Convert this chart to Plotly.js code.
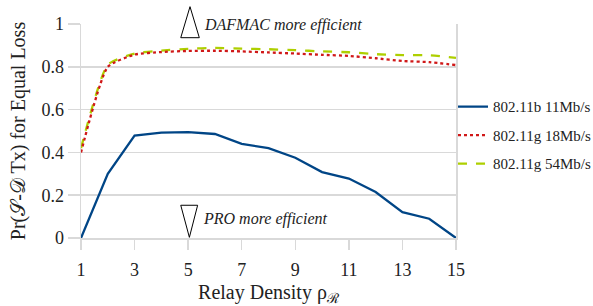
<!DOCTYPE html>
<html>
<head>
<meta charset="utf-8">
<script src="https://cdn.plot.ly/plotly-3.0.1.min.js"></script>
<style>
html,body{margin:0;padding:0;background:#fff;}
#chart{width:593px;height:306px;}
#chart text, #chart tspan { font-family: "Liberation Serif", "Times New Roman", serif !important; }
</style>
</head>
<body>
<div id="chart"></div>
<script>
// Relay density values
var relayDensity = [1,2,3,4,5,6,7,8,9,10,11,12,13,14,15];
// Series values
var b11 = [0, 0.30, 0.478, 0.492, 0.495, 0.486, 0.44, 0.42, 0.375, 0.308, 0.278, 0.215, 0.121, 0.09, 0];
var g18 = [0.40, 0.80, 0.857, 0.869, 0.874, 0.875, 0.872, 0.867, 0.862, 0.856, 0.851, 0.84, 0.827, 0.822, 0.808];
var g54 = [0.42, 0.81, 0.862, 0.876, 0.884, 0.888, 0.885, 0.882, 0.878, 0.872, 0.868, 0.859, 0.855, 0.854, 0.842];
// Labels
var seriesNames = ["802.11b 11Mb/s", "802.11g 18Mb/s", "802.11g 54Mb/s"];
var xTicks = [1,3,5,7,9,11,13,15];
var yTicks = [0,0.2,0.4,0.6,0.8,1];
var yTickText = ["0","0.2","0.4","0.6","0.8","1"];

var serif = "Liberation Serif";
var grid = "#d9d9d9";

var traces = [
  {x: relayDensity, y: b11, name: seriesNames[0], mode: "lines", legendgroup: "a",
   line: {color: "#004586", width: 2.3}},
  {x: relayDensity, y: g18, name: seriesNames[1], mode: "lines", legendgroup: "b",
   line: {color: "#d01818", width: 2.3, dash: "dot", shape: "spline", smoothing: 0.5}},
  {x: relayDensity, y: g54, name: seriesNames[2], mode: "lines", legendgroup: "c",
   line: {color: "#aecf00", width: 2.3, dash: "dash", shape: "spline", smoothing: 0.5}}
];

// draw red dotted on top of green dashed, keep legend order
var data = [traces[0], traces[2], traces[1]];
traces[0].legendrank = 1; traces[1].legendrank = 2; traces[2].legendrank = 3;

var layout = {
  width: 593, height: 306,
  margin: {l: 81, r: 137, t: 24, b: 68, autoexpand: false},
  paper_bgcolor: "#fff", plot_bgcolor: "#fff",
  font: {family: serif, color: "#222", size: 16},
  showlegend: true,
  legend: {x: 0.992, y: 0.69, xanchor: "left", yanchor: "top", tracegroupgap: 6,
           font: {family: serif, size: 15, color: "#222"}, bgcolor: "rgba(0,0,0,0)"},
  xaxis: {
    range: [1, 15], tickvals: xTicks, ticktext: xTicks.map(String),
    showgrid: false, zeroline: false, showline: true, linecolor: grid, linewidth: 1.5,
    ticks: "outside", ticklen: 10, tickcolor: grid, tickwidth: 1.5, ticklabelstandoff: 5,
    tickfont: {family: serif, size: 18, color: "#222"},
    title: {text: "Relay Density ρ<sub>ℛ</sub>", font: {family: serif, size: 20, color: "#222"}, standoff: 12}
  },
  yaxis: {
    range: [0, 1], tickvals: yTicks, ticktext: yTickText,
    showgrid: true, gridcolor: grid, gridwidth: 1.5, zeroline: false,
    showline: true, linecolor: grid, linewidth: 1.5, mirror: true,
    ticks: "outside", ticklen: 12, tickcolor: grid, tickwidth: 1.5,
    tickfont: {family: serif, size: 18, color: "#222"},
    title: {text: "Pr(𝒮-𝒟 Tx) for Equal Loss", font: {family: serif, size: 20, color: "#222"}, standoff: 10}
  },
  shapes: [
    {type: "rect", xref: "paper", yref: "paper", x0: 0.243, x1: 0.76, y0: 0.985, y1: 1.015,
     fillcolor: "#fff", line: {width: 0}, layer: "above"},
    {type: "path", xref: "paper", yref: "paper", path: "M 0.266 0.936 L 0.3155 0.936 L 0.2907 1.081 Z",
     fillcolor: "#fff", line: {color: "#000", width: 1}, layer: "above"},
    {type: "path", xref: "paper", yref: "paper", path: "M 0.266 0.153 L 0.311 0.153 L 0.289 0.003 Z",
     fillcolor: "#fff", line: {color: "#000", width: 1}, layer: "above"}
  ],
  annotations: [
    {xref: "paper", yref: "paper", x: 0.323, y: 0.995, xanchor: "left", yanchor: "middle",
     text: "<i>DAFMAC more efficient</i>", showarrow: false,
     font: {family: serif, size: 16, color: "#222"}},
    {xref: "paper", yref: "paper", x: 0.32, y: 0.089, xanchor: "left", yanchor: "middle",
     text: "<i>PRO more efficient</i>", showarrow: false,
     font: {family: serif, size: 16, color: "#222"}}
  ]
};

Plotly.newPlot("chart", data, layout, {displayModeBar: false, staticPlot: true});
</script>
</body>
</html>
